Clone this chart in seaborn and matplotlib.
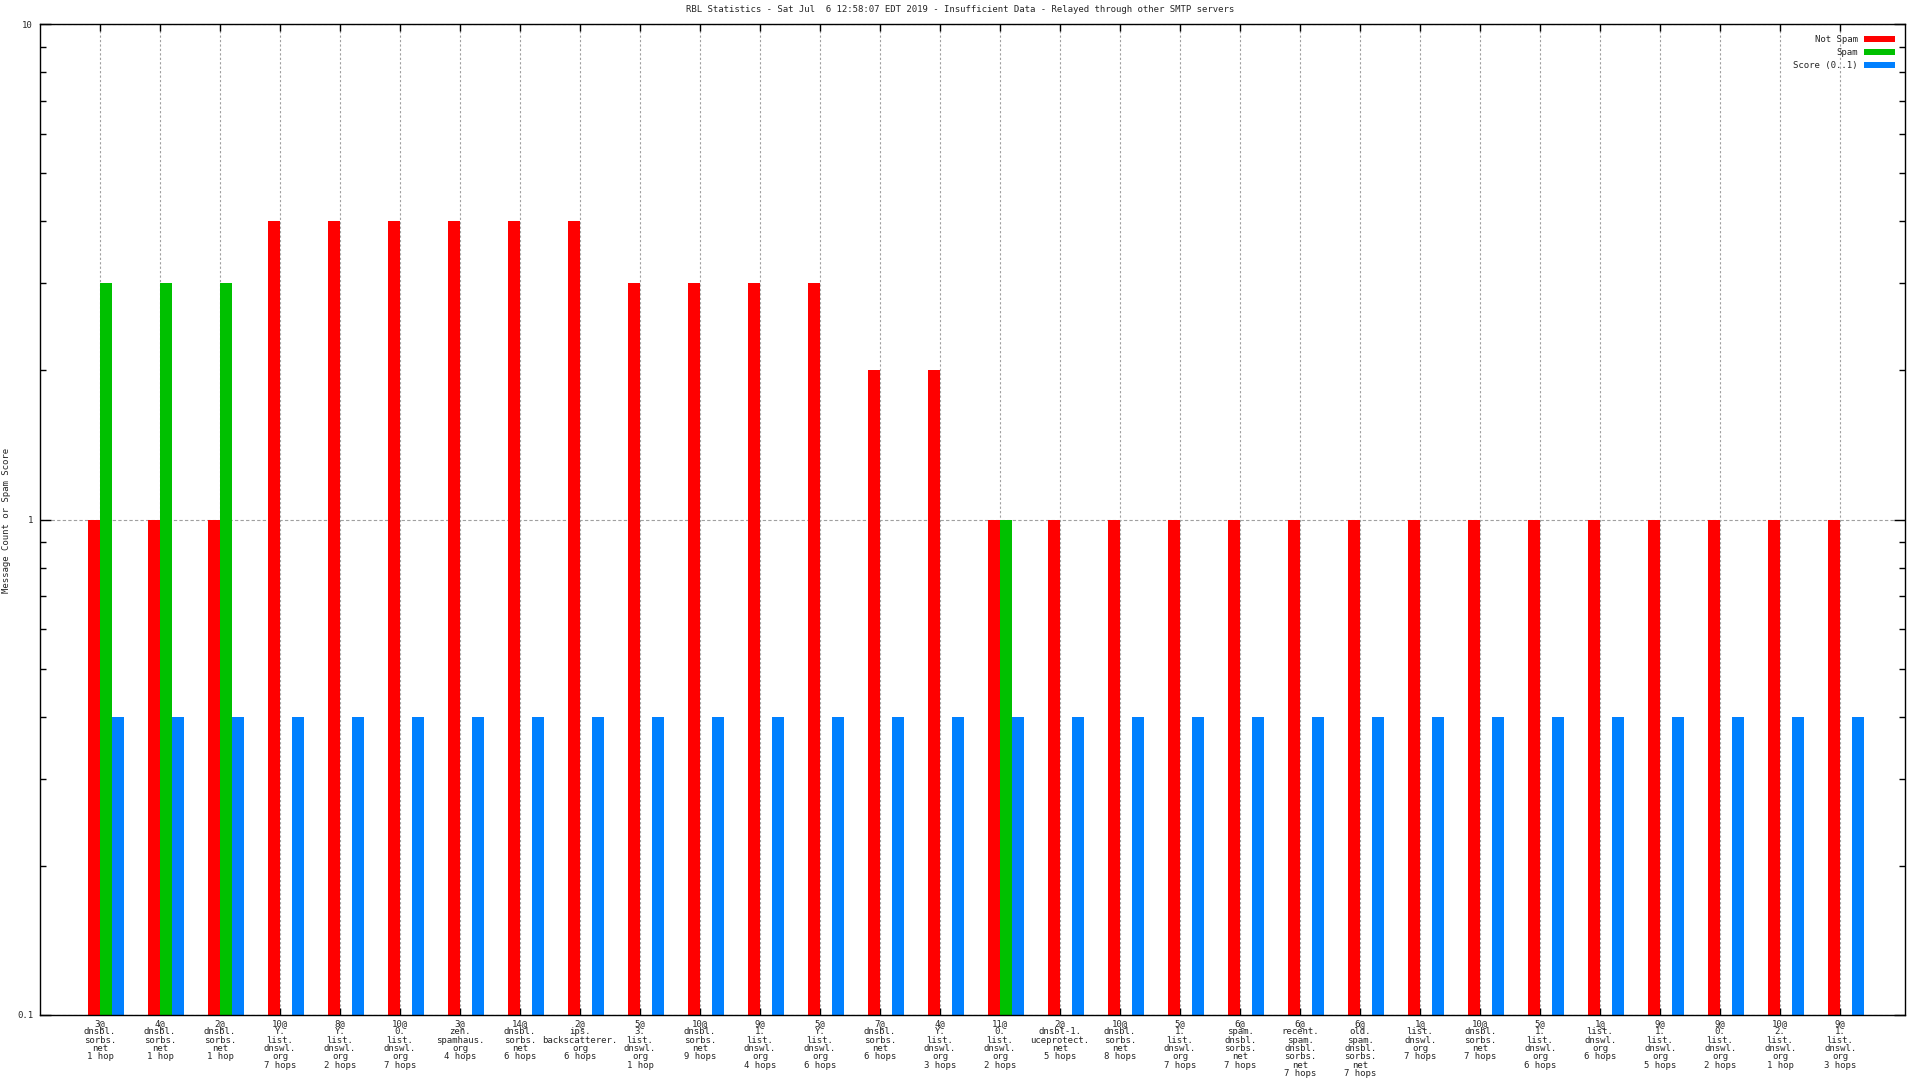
import numpy as np
import pandas as pd
import matplotlib
matplotlib.use("Agg")
import matplotlib.pyplot as plt
from matplotlib.patches import Patch
from matplotlib.ticker import FixedLocator, NullFormatter, FixedFormatter
import seaborn as sns

categories = [
    "3@\ndnsbl.\nsorbs.\nnet\n1 hop",
    "4@\ndnsbl.\nsorbs.\nnet\n1 hop",
    "2@\ndnsbl.\nsorbs.\nnet\n1 hop",
    "10@\nY.\nlist.\ndnswl.\norg\n7 hops",
    "8@\nY.\nlist.\ndnswl.\norg\n2 hops",
    "10@\n0.\nlist.\ndnswl.\norg\n7 hops",
    "3@\nzen.\nspamhaus.\norg\n4 hops",
    "14@\ndnsbl.\nsorbs.\nnet\n6 hops",
    "2@\nips.\nbackscatterer.\norg\n6 hops",
    "5@\n3.\nlist.\ndnswl.\norg\n1 hop",
    "10@\ndnsbl.\nsorbs.\nnet\n9 hops",
    "9@\n1.\nlist.\ndnswl.\norg\n4 hops",
    "5@\nY.\nlist.\ndnswl.\norg\n6 hops",
    "7@\ndnsbl.\nsorbs.\nnet\n6 hops",
    "4@\nY.\nlist.\ndnswl.\norg\n3 hops",
    "11@\n0.\nlist.\ndnswl.\norg\n2 hops",
    "2@\ndnsbl-1.\nuceprotect.\nnet\n5 hops",
    "10@\ndnsbl.\nsorbs.\nnet\n8 hops",
    "5@\n1.\nlist.\ndnswl.\norg\n7 hops",
    "6@\nspam.\ndnsbl.\nsorbs.\nnet\n7 hops",
    "6@\nrecent.\nspam.\ndnsbl.\nsorbs.\nnet\n7 hops",
    "6@\nold.\nspam.\ndnsbl.\nsorbs.\nnet\n7 hops",
    "1@\nlist.\ndnswl.\norg\n7 hops",
    "10@\ndnsbl.\nsorbs.\nnet\n7 hops",
    "5@\n1.\nlist.\ndnswl.\norg\n6 hops",
    "1@\nlist.\ndnswl.\norg\n6 hops",
    "9@\n1.\nlist.\ndnswl.\norg\n5 hops",
    "9@\n0.\nlist.\ndnswl.\norg\n2 hops",
    "10@\n2.\nlist.\ndnswl.\norg\n1 hop",
    "9@\n1.\nlist.\ndnswl.\norg\n3 hops",
]

not_spam = [1, 1, 1, 4, 4, 4, 4, 4, 4, 3, 3, 3, 3, 2, 2,
            1, 1, 1, 1, 1, 1, 1, 1, 1, 1, 1, 1, 1, 1, 1]
spam = [3, 3, 3, 0, 0, 0, 0, 0, 0, 0, 0, 0, 0, 0, 0,
        1, 0, 0, 0, 0, 0, 0, 0, 0, 0, 0, 0, 0, 0, 0]
score = [0.4] * 30

series_names = ["Not Spam", "Spam", "Score (0..1)"]
series_colors = ["#ff0000", "#00c000", "#0080ff"]

title = "RBL Statistics - Sat Jul  6 12:58:07 EDT 2019 - Insufficient Data - Relayed through other SMTP servers"
ylabel = "Message Count or Spam Score"

# build long table
idx = list(range(len(categories)))
rows = []
for name, vals in zip(series_names, [not_spam, spam, score]):
    for i, v in zip(idx, vals):
        rows.append({"cat": i, "series": name, "value": (v if v > 0 else np.nan)})
df = pd.DataFrame(rows)

sns.set_theme(style="white")
plt.rcParams["font.family"] = ["DejaVu Sans Mono", "DejaVu Sans"]
FS = 6.5

fig = plt.figure(figsize=(19.2, 10.8), dpi=100)
L, R, T, B = 40 / 1920, 1905 / 1920, 1 - 24 / 1080, 1 - 1015 / 1080
ax = fig.add_axes([L, B, R - L, T - B])
ax.set_yscale("log")

sns.barplot(data=df, x="cat", y="value", hue="series", hue_order=series_names,
            palette=series_colors, width=0.6, dodge=True, legend=False,
            saturation=1, linewidth=0, ax=ax, native_scale=False)

ax.set_ylim(0.1, 10)
ax.set_xlim(-1.1, 29.98)

tick_pos = [i - 0.1 for i in idx]
ax.set_xticks(tick_pos)
ax.set_xticklabels(categories, fontsize=FS, linespacing=0.9, va="top", ha="center")
ax.tick_params(axis="x", which="major", direction="in", length=5, width=1,
               top=True, bottom=True, pad=3, color="black")

ax.yaxis.set_major_locator(FixedLocator([0.1, 1, 10]))
ax.yaxis.set_major_formatter(FixedFormatter(["0.1", "1", "10"]))
minors = [m * d for d in (0.1, 1) for m in range(2, 10)]
ax.yaxis.set_minor_locator(FixedLocator(minors))
ax.yaxis.set_minor_formatter(NullFormatter())
ax.tick_params(axis="y", which="major", direction="in", length=8, width=1,
               left=True, right=True, labelsize=FS, pad=5, color="black")
ax.tick_params(axis="y", which="minor", direction="in", length=4, width=1,
               left=True, right=True, color="black")

ax.set_xlabel("")
ax.set_ylabel("")
for s in ax.spines.values():
    s.set_visible(True)
    s.set_color("black")
    s.set_linewidth(1.0)

ax.set_axisbelow(True)
ax.grid(True, axis="x", which="major", color="#a0a0a0", linestyle=(0, (2, 2)), linewidth=0.8)
ax.grid(True, axis="y", which="major", color="#a0a0a0", linestyle=(0, (3, 2)), linewidth=0.8)
ax.grid(False, which="minor")

handles = [Patch(facecolor=c, edgecolor="none", label=n) for n, c in zip(series_names, series_colors)]
ax.legend(handles=handles, loc="upper right", markerfirst=False, frameon=False,
          fontsize=FS, handlelength=3.4, handleheight=0.75, handletextpad=0.7,
          labelspacing=0.45, borderpad=0, borderaxespad=0,
          bbox_to_anchor=(1 - 10 / 1865, 1 - 11 / 991))

fig.text(0.5, 1 - 10 / 1080, title, ha="center", va="center", fontsize=FS)
fig.text(7 / 1920, (1 - 520 / 1080), ylabel, ha="center", va="center",
         rotation=90, fontsize=FS)

fig.savefig("out.png", dpi=100, facecolor="white")
